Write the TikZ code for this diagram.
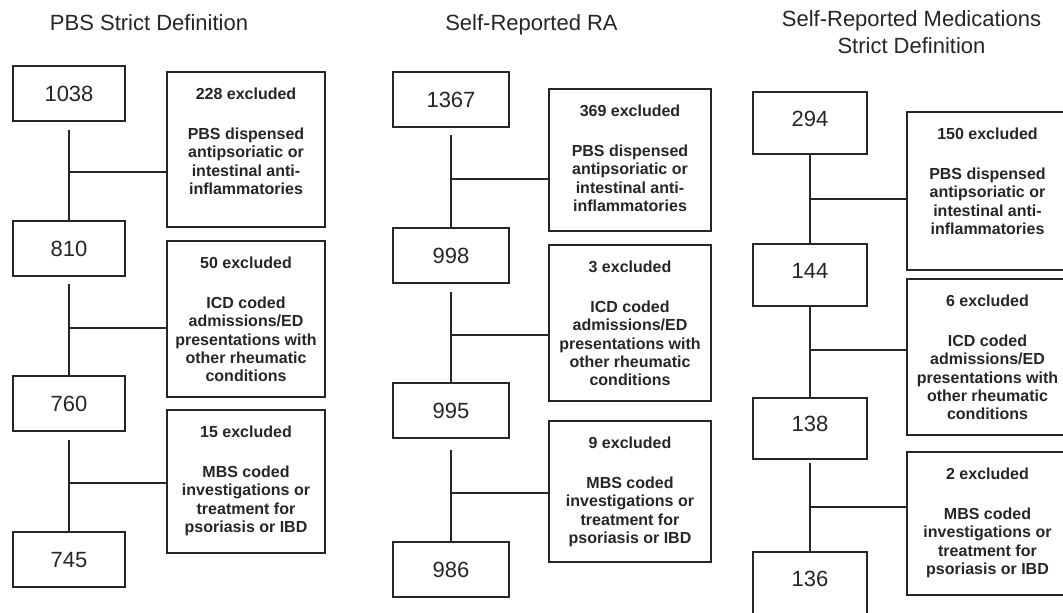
\documentclass[tikz,border=0pt]{standalone}
\usepackage{fontspec}
\setmainfont{Liberation Sans}
\definecolor{inkc}{HTML}{262626}
\begin{document}
\begin{tikzpicture}[x=1pt,y=-1pt,
  cntbox/.style={draw=inkc, line width=1.6pt, inner sep=0pt, text=inkc,
    font={\fontsize{22}{26}\selectfont}, text height=15.8pt, text depth=0pt},
  exbox/.style={draw=inkc, line width=1.6pt, inner sep=0pt},
  extext/.style={anchor=north, inner sep=0pt, align=center, text=inkc,
    font={\fontsize{16}{18.3}\selectfont\bfseries}},
  ttl/.style={anchor=base, inner sep=0pt, align=center, text=inkc,
    font={\fontsize{22}{26}\selectfont}},
  conn/.style={draw=inkc, line width=1.6pt}]
\clip (0,0) rectangle (1063,613);
\fill[white] (0,0) rectangle (1063,613);

% ---------- titles ----------
\node[ttl] (t1) at (149,30.5) {PBS Strict Definition};
\node[ttl] (t2) at (531.5,30) {Self-Reported RA};
\node[ttl] (t3a) at (911.5,27) {Self-Reported Medications};
\node[ttl] (t3b) at (911.5,53.3) {Strict Definition};

% ---------- column 1 ----------
\node[cntbox, minimum width=112pt, minimum height=55pt] (a1) at (69,93.5) {1038};
\node[cntbox, minimum width=112pt, minimum height=55pt] (a2) at (69,248.5) {810};
\node[cntbox, minimum width=112pt, minimum height=55pt] (a3) at (69,403.5) {760};
\node[cntbox, minimum width=112pt, minimum height=55pt] (a4) at (69,559.5) {745};

\node[exbox, minimum width=158pt, minimum height=155pt] (ae1) at (246,149.5) {};
\node[exbox, minimum width=158pt, minimum height=156pt] (ae2) at (246,319) {};
\node[exbox, minimum width=158pt, minimum height=143pt] (ae3) at (246,481.5) {};

\node[extext] (aet1) at ([yshift=-16.5pt]ae1.north) {228 excluded\\[21.7pt]PBS dispensed\\antipsoriatic or\\intestinal anti-\\inflammatories};
\node[extext] (aet2) at ([yshift=-16.5pt]ae2.north) {50 excluded\\[21.7pt]ICD coded\\admissions/ED\\presentations with\\other rheumatic\\conditions};
\node[extext] (aet3) at ([yshift=-16.5pt]ae3.north) {15 excluded\\[21.7pt]MBS coded\\investigations or\\treatment for\\psoriasis or IBD};

\coordinate (av1) at ([yshift=-8pt]a1.south);
\coordinate (av2) at ([yshift=-7pt]a2.south);
\coordinate (av3) at ([yshift=-8pt]a3.south);
\draw[conn] (av1) -- (a2.north);
\draw[conn] (av2) -- (a3.north);
\draw[conn] (av3) -- (a4.north);
\coordinate (aj1) at (69,172);
\coordinate (aj2) at (69,328);
\coordinate (aj3) at (69,483);
\draw[conn] (aj1) -- (aj1 -| ae1.west);
\draw[conn] (aj2) -- (aj2 -| ae2.west);
\draw[conn] (aj3) -- (aj3 -| ae3.west);

% ---------- column 2 ----------
\node[cntbox, minimum width=116pt, minimum height=55pt] (b1) at (451,99.5) {1367};
\node[cntbox, minimum width=116pt, minimum height=55pt] (b2) at (451,255.5) {998};
\node[cntbox, minimum width=116pt, minimum height=55pt] (b3) at (451,410.5) {995};
\node[cntbox, minimum width=116pt, minimum height=55pt] (b4) at (451,569.5) {986};

\node[exbox, minimum width=162pt, minimum height=142pt] (be1) at (630,160) {};
\node[exbox, minimum width=162pt, minimum height=156pt] (be2) at (630,323) {};
\node[exbox, minimum width=162pt, minimum height=141pt] (be3) at (630,491.5) {};

\node[extext] (bet1) at ([yshift=-16.5pt]be1.north) {369 excluded\\[21.7pt]PBS dispensed\\antipsoriatic or\\intestinal anti-\\inflammatories};
\node[extext] (bet2) at ([yshift=-16.5pt]be2.north) {3 excluded\\[21.7pt]ICD coded\\admissions/ED\\presentations with\\other rheumatic\\conditions};
\node[extext] (bet3) at ([yshift=-16.5pt]be3.north) {9 excluded\\[21.7pt]MBS coded\\investigations or\\treatment for\\psoriasis or IBD};

\coordinate (bv1) at ([yshift=-7pt]b1.south);
\coordinate (bv2) at ([yshift=-8pt]b2.south);
\coordinate (bv3) at ([yshift=-11pt]b3.south);
\draw[conn] (bv1) -- (b2.north);
\draw[conn] (bv2) -- (b3.north);
\draw[conn] (bv3) -- (b4.north);
\coordinate (bj1) at (451,179);
\coordinate (bj2) at (451,335);
\coordinate (bj3) at (451,493);
\draw[conn] (bj1) -- (bj1 -| be1.west);
\draw[conn] (bj2) -- (bj2 -| be2.west);
\draw[conn] (bj3) -- (bj3 -| be3.west);

% ---------- column 3 ----------
\node[cntbox, minimum width=114.5pt, minimum height=62pt, text depth=9pt] (c1) at (810,123) {294};
\node[cntbox, minimum width=114.5pt, minimum height=62pt, text depth=9pt] (c2) at (810,275) {144};
\node[cntbox, minimum width=114.5pt, minimum height=61pt, text depth=9pt] (c3) at (810,428.5) {138};
\node[cntbox, minimum width=114.5pt, minimum height=62pt, text depth=9pt] (c4) at (810,583) {136};

\node[exbox, minimum width=161pt, minimum height=158pt] (ce1) at (987.5,191) {};
\node[exbox, minimum width=161pt, minimum height=156pt] (ce2) at (987.5,357) {};
\node[exbox, minimum width=161pt, minimum height=143pt] (ce3) at (987.5,523.5) {};

\node[extext] (cet1) at ([yshift=-16.5pt]ce1.north) {150 excluded\\[21.7pt]PBS dispensed\\antipsoriatic or\\intestinal anti-\\inflammatories};
\node[extext] (cet2) at ([yshift=-16.5pt]ce2.north) {6 excluded\\[21.7pt]ICD coded\\admissions/ED\\presentations with\\other rheumatic\\conditions};
\node[extext] (cet3) at ([yshift=-16.5pt]ce3.north) {2 excluded\\[21.7pt]MBS coded\\investigations or\\treatment for\\psoriasis or IBD};

\coordinate (cv3) at ([yshift=-3pt]c3.south);
\draw[conn] (c1.south) -- (c2.north);
\draw[conn] (c2.south) -- (c3.north);
\draw[conn] (cv3) -- (c4.north);
\coordinate (cj1) at (810,199);
\coordinate (cj2) at (810,350);
\coordinate (cj3) at (810,507);
\draw[conn] (cj1) -- (cj1 -| ce1.west);
\draw[conn] (cj2) -- (cj2 -| ce2.west);
\draw[conn] (cj3) -- (cj3 -| ce3.west);
\end{tikzpicture}
\end{document}
